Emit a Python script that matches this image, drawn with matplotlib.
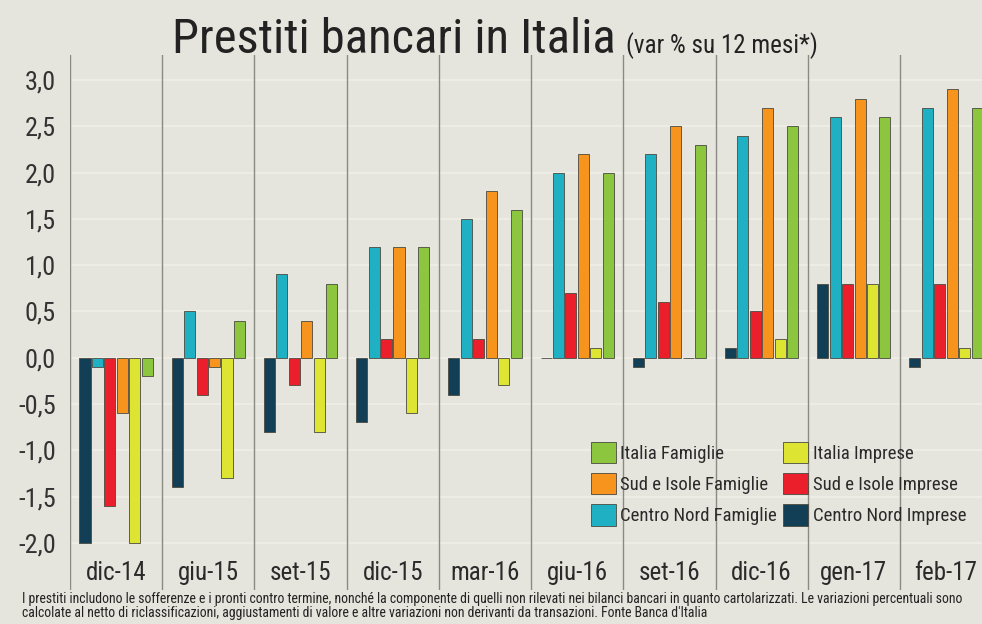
import numpy as np
import matplotlib.pyplot as plt
from matplotlib.patches import Patch

# --- data -------------------------------------------------------------
categories = ["dic-14", "giu-15", "set-15", "dic-15", "mar-16",
              "giu-16", "set-16", "dic-16", "gen-17", "feb-17"]

centro_nord_imprese = [-2.0, -1.4, -0.8, -0.7, -0.4, 0.0, -0.1, 0.1, 0.8, -0.1]
centro_nord_famiglie = [-0.1, 0.5, 0.9, 1.2, 1.5, 2.0, 2.2, 2.4, 2.6, 2.7]
sud_isole_imprese = [-1.6, -0.4, -0.3, 0.2, 0.2, 0.7, 0.6, 0.5, 0.8, 0.8]
sud_isole_famiglie = [-0.6, -0.1, 0.4, 1.2, 1.8, 2.2, 2.5, 2.7, 2.8, 2.9]
italia_imprese = [-2.0, -1.3, -0.8, -0.6, -0.3, 0.1, 0.0, 0.2, 0.8, 0.1]
italia_famiglie = [-0.2, 0.4, 0.8, 1.2, 1.6, 2.0, 2.3, 2.5, 2.6, 2.7]

y_ticks = [-2.0, -1.5, -1.0, -0.5, 0.0, 0.5, 1.0, 1.5, 2.0, 2.5, 3.0]
y_tick_labels = ["-2,0", "-1,5", "-1,0", "-0,5", "0,0", "0,5",
                 "1,0", "1,5", "2,0", "2,5", "3,0"]

series = [
    ("Centro Nord Imprese", centro_nord_imprese, "#123f55"),
    ("Centro Nord Famiglie", centro_nord_famiglie, "#1fb0c4"),
    ("Sud e Isole Imprese", sud_isole_imprese, "#ea1f2b"),
    ("Sud e Isole Famiglie", sud_isole_famiglie, "#f7941e"),
    ("Italia Imprese", italia_imprese, "#dde431"),
    ("Italia Famiglie", italia_famiglie, "#8cc63f"),
]

FONT = ["Liberation Sans Narrow", "Roboto Condensed", "DejaVu Sans"]
plt.rcParams["font.family"] = FONT

bg = "#e5e5dd"
fig = plt.figure(figsize=(9.82, 6.24), dpi=100, facecolor=bg)
ax = fig.add_axes([70 / 982, 1 - 590 / 624, 1 - 70 / 982, (590 - 55) / 624])
ax.set_facecolor(bg)

x = np.arange(len(categories))
step, width = 0.135, 0.12
for i, (name, vals, col) in enumerate(series):
    ax.bar(x + (i - 2.5) * step, vals, width, color=col,
           edgecolor="#4a4a40", linewidth=0.6, zorder=3)

# horizontal grid (white-ish) and vertical separators
for t in y_ticks:
    ax.axhline(t, color="#f0f0ea", lw=1.1, zorder=1)
for s in np.arange(len(categories)) - 0.5:
    ax.axvline(s, color="#8a8a84", lw=1.0, zorder=2)

ax.set_xlim(-0.5, 9.39)
ax.set_ylim(-2.51, 3.27)
for sp in ax.spines.values():
    sp.set_visible(False)

ax.set_xticks([])
ax.set_yticks(y_ticks)
ax.set_yticklabels(y_tick_labels, fontsize=19, color="#333333")
ax.tick_params(axis="y", length=0, pad=10)

# category labels inside the bottom strip
for xi, lab in zip(x, categories):
    ax.text(xi, -2.33, lab, ha="center", va="center", fontsize=18,
            color="#2a2a2a", zorder=4)

# legend
order = [5, 3, 1, 4, 2, 0]
handles = [Patch(facecolor=series[k][2], edgecolor="#4a4a40", linewidth=0.6,
                 label=series[k][0]) for k in order]
leg = ax.legend(handles=handles, ncol=2, loc="lower left",
                bbox_to_anchor=((583 - 70) / 912, (590 - 533) / 535),
                frameon=False, fontsize=13.5, handlelength=1.35, handleheight=1.35,
                handletextpad=0.25, columnspacing=0.3, labelspacing=0.55,
                borderaxespad=0)
for t in leg.get_texts():
    t.set_color("#2a2a2a")

# title
fig.text(172 / 982, 1 - 53 / 624, "Prestiti bancari in Italia", fontsize=35,
         color="#222222", va="baseline", ha="left")
fig.text(626 / 982, 1 - 53 / 624, "(var % su 12 mesi*)", fontsize=18,
         color="#222222", va="baseline", ha="left")

# footnote
fig.text(22 / 982, 1 - 606 / 624,
         "I prestiti includono le sofferenze e i pronti contro termine, nonché la "
         "componente di quelli non rilevati nei bilanci bancari in quanto "
         "cartolarizzati. Le variazioni percentuali sono\n"
         "calcolate al netto di riclassificazioni, aggiustamenti di valore e altre "
         "variazioni non derivanti da transazioni. Fonte Banca d'Italia",
         fontsize=9.9, color="#222222", va="center", ha="left", linespacing=0.92)

fig.savefig("out.png", dpi=100, facecolor=bg)
